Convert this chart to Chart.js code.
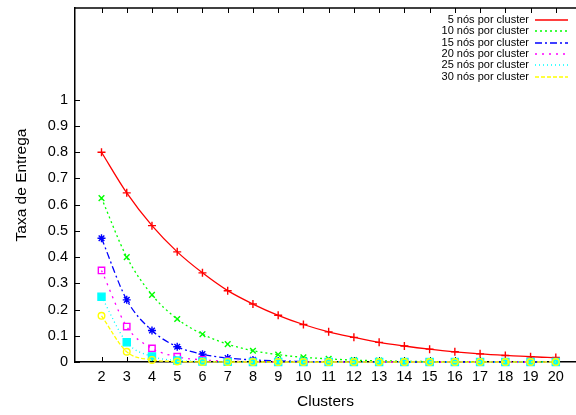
<!DOCTYPE html>
<html>
<head>
<meta charset="utf-8">
<script src="https://cdn.jsdelivr.net/npm/chart.js@4/dist/chart.umd.min.js"></script>
<style>
  body { margin: 0; background: #fff; }
  #wrap { width: 576px; height: 415px; }
</style>
</head>
<body>
<div id="wrap"><canvas id="chart" width="576" height="415"></canvas></div>
<script>
// values
var clusters = [2, 3, 4, 5, 6, 7, 8, 9, 10, 11, 12, 13, 14, 15, 16, 17, 18, 19, 20];
var yTicks = [0, 0.1, 0.2, 0.3, 0.4, 0.5, 0.6, 0.7, 0.8, 0.9, 1];

var seriesNames = ["5 nós por cluster", "10 nós por cluster", "15 nós por cluster",
                   "20 nós por cluster", "25 nós por cluster", "30 nós por cluster"];

var nos5  = [0.8, 0.645, 0.52, 0.42, 0.34, 0.272, 0.221, 0.178, 0.143, 0.115, 0.094, 0.075, 0.061, 0.049, 0.039, 0.031, 0.025, 0.02, 0.017];
var nos10 = [0.625, 0.4, 0.256, 0.164, 0.106, 0.068, 0.043, 0.028, 0.018, 0.012, 0.007, 0.005, 0.003, 0.002, 0.001, 0.001, 0.0005, 0.0003, 0.0002];
var nos15 = [0.472, 0.237, 0.12, 0.058, 0.03, 0.015, 0.008, 0.004, 0.002, 0.001, 0.0005, 0.0002, 0.0001, 0, 0, 0, 0, 0, 0];
var nos20 = [0.349, 0.135, 0.052, 0.02, 0.008, 0.003, 0.001, 0.0005, 0.0002, 0, 0, 0, 0, 0, 0, 0, 0, 0, 0];
var nos25 = [0.249, 0.075, 0.021, 0.006, 0.002, 0.0005, 0.0001, 0, 0, 0, 0, 0, 0, 0, 0, 0, 0, 0, 0];
var nos30 = [0.176, 0.039, 0.008, 0.002, 0.0004, 0.0001, 0, 0, 0, 0, 0, 0, 0, 0, 0, 0, 0, 0, 0];

var seriesValues = [nos5, nos10, nos15, nos20, nos25, nos30];
var colors = ["#ff0000", "#00ff00", "#0000ff", "#ff00ff", "#00ffff", "#ffff00"];
var dashes = [[], [2, 3], [7, 3, 2, 3], [2, 5], [1, 3], [4, 2]];
var markers = ["cross", "crossRot", "star", "rect", "rect", "circle"];
var filled = [false, false, false, false, true, false];
var radii = [4, 4, 4, 4.5, 5, 3.3];

var FONT = '"Liberation Sans", Arial, Helvetica, sans-serif';

function toPoints(values) {
    return clusters.map(function (c, i) { return { x: c, y: values[i] }; });
}

var datasets = seriesValues.map(function (vals, i) {
    return {
        label: seriesNames[i],
        data: toPoints(vals),
        borderColor: colors[i],
        backgroundColor: colors[i],
        borderWidth: 1.3,
        borderDash: dashes[i],
        cubicInterpolationMode: 'monotone',
        pointStyle: markers[i],
        pointRadius: radii[i],
        pointBorderWidth: 1.4,
        pointBorderColor: colors[i],
        pointBackgroundColor: filled[i] ? colors[i] : 'rgba(0,0,0,0)',
        clip: false,
        order: seriesValues.length - i
    };
});

// gnuplot style frame: top border, inward ticks, key in the top right corner
var frame = {
    id: 'frame',
    beforeDatasetsDraw: function (chart) {
        var ctx = chart.ctx, a = chart.chartArea;
        var xs = chart.scales.x, ys = chart.scales.y;
        ctx.save();
        ctx.strokeStyle = '#000';
        ctx.lineWidth = 1.5;
        ctx.beginPath();
        ctx.moveTo(a.left, a.top);
        ctx.lineTo(a.right, a.top);
        ctx.stroke();
        ctx.lineWidth = 1;
        ctx.beginPath();
        clusters.forEach(function (c) {
            var px = Math.round(xs.getPixelForValue(c)) + 0.5;
            ctx.moveTo(px, a.bottom);
            ctx.lineTo(px, a.bottom - 5);
            ctx.moveTo(px, a.top);
            ctx.lineTo(px, a.top + 5);
        });
        yTicks.forEach(function (v) {
            var py = Math.round(ys.getPixelForValue(v)) + 0.5;
            ctx.moveTo(a.left, py);
            ctx.lineTo(a.left + 5, py);
        });
        ctx.stroke();
        ctx.restore();
    },
    afterDraw: function (chart) {
        var ctx = chart.ctx;
        ctx.save();
        ctx.font = '11px ' + FONT;
        ctx.textAlign = 'right';
        ctx.textBaseline = 'middle';
        seriesNames.forEach(function (name, i) {
            var y = 20 + i * 11.33;
            ctx.fillStyle = '#000';
            ctx.fillText(name, 529, y);
            ctx.strokeStyle = colors[i];
            ctx.lineWidth = 1.5;
            ctx.setLineDash(dashes[i]);
            ctx.beginPath();
            ctx.moveTo(535, Math.round(y));
            ctx.lineTo(568, Math.round(y));
            ctx.stroke();
            ctx.setLineDash([]);
        });
        ctx.restore();
    }
};

new Chart(document.getElementById('chart'), {
    type: 'line',
    data: { datasets: datasets },
    options: {
        responsive: false,
        animation: false,
        devicePixelRatio: 1,
        layout: { autoPadding: false, padding: { top: 8, right: 0, left: 0, bottom: 0 } },
        plugins: { legend: { display: false }, tooltip: { enabled: false } },
        scales: {
            x: {
                type: 'linear',
                min: 0.95,
                max: 20.8,
                afterBuildTicks: function (s) { s.ticks = clusters.map(function (v) { return { value: v }; }); },
                afterFit: function (s) { s.height = 53; s.paddingLeft = 0; s.paddingRight = 0; },
                grid: { display: false, drawTicks: false },
                border: { display: true, color: '#000', width: 1.5 },
                ticks: { color: '#000', padding: 6, maxRotation: 0, autoSkip: false,
                         font: { family: FONT, size: 14.5 },
                         callback: function (v) { return String(v); } },
                title: { display: true, text: 'Clusters', color: '#000',
                         font: { family: FONT, size: 15.5 }, padding: { top: 0, bottom: 4 } }
            },
            y: {
                min: 0,
                max: 1.35,
                afterBuildTicks: function (s) { s.ticks = yTicks.map(function (v) { return { value: v }; }); },
                afterFit: function (s) { s.width = 75; s.paddingTop = 0; s.paddingBottom = 0; },
                grid: { display: false, drawTicks: false },
                border: { display: true, color: '#000', width: 1.5 },
                ticks: { color: '#000', padding: 7, autoSkip: false,
                         font: { family: FONT, size: 14.5 },
                         callback: function (v) { return String(v); } },
                title: { display: true, text: 'Taxa de Entrega', color: '#000',
                         font: { family: FONT, size: 15.5 }, padding: { top: 12, bottom: 0 } }
            }
        }
    },
    plugins: [frame]
});
</script>
</body>
</html>
